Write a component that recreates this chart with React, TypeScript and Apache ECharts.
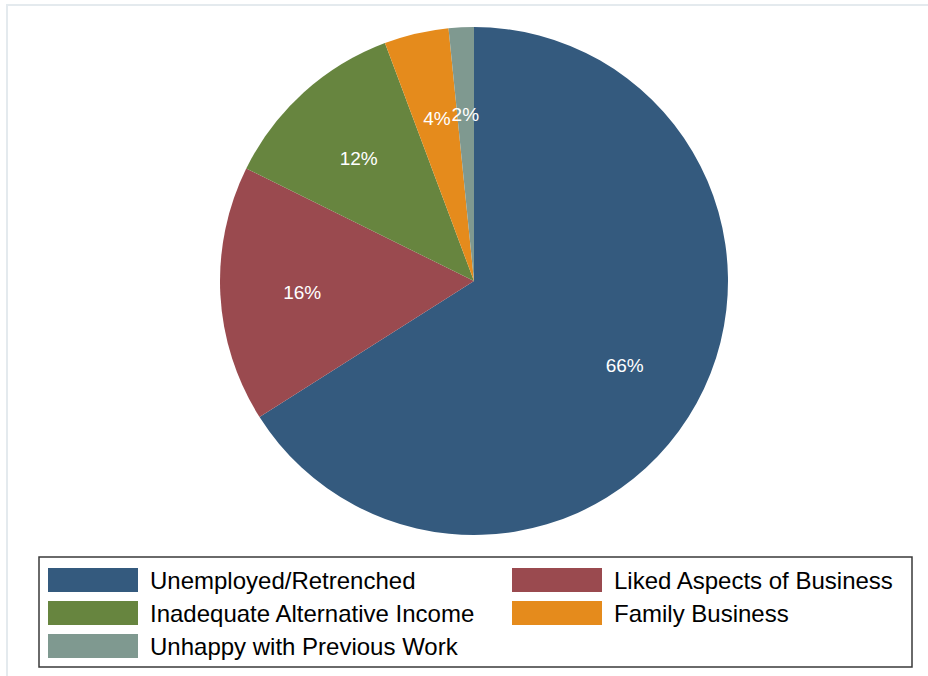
import React, { useEffect, useRef } from "react";
import * as echarts from "echarts";

const categories = [
  "Unemployed/Retrenched",
  "Liked Aspects of Business",
  "Inadequate Alternative Income",
  "Family Business",
  "Unhappy with Previous Work",
];
const values = [66.0, 16.3, 12.0, 4.1, 1.6];
const colors = ["#345a7e", "#9a4a4f", "#67853f", "#e58b1c", "#7f9990"];
const legendLeft = ["Unemployed/Retrenched", "Inadequate Alternative Income", "Unhappy with Previous Work"];
const legendRight = ["Liked Aspects of Business", "Family Business"];

const FONT = "'Liberation Sans', Arial, Helvetica, sans-serif";

export default function App() {
  const ref = useRef<HTMLDivElement>(null);
  useEffect(() => {
    if (!ref.current) return;
    const chart = echarts.init(ref.current, undefined, { renderer: "svg" });
    const legendCommon = {
      orient: "vertical" as const,
      top: 563,
      itemWidth: 90,
      itemHeight: 24,
      itemGap: 9,
      icon: "rect",
      selectedMode: false,
      textStyle: { color: "#000", fontSize: 24, fontFamily: FONT, padding: [0, 0, 0, 7] },
    };
    chart.setOption({
      animation: false,
      backgroundColor: "#ffffff",
      color: colors,
      legend: [
        { ...legendCommon, left: 43, data: legendLeft },
        { ...legendCommon, left: 507, data: legendRight },
      ],
      graphic: [
        {
          type: "rect",
          shape: { x: 7, y: 5, width: 940, height: 690 },
          style: { fill: "none", stroke: "#e4eaee", lineWidth: 2 },
          silent: true,
          z: -1,
        },
        {
          type: "rect",
          shape: { x: 39, y: 557, width: 873, height: 110 },
          style: { fill: "none", stroke: "#3a3a3a", lineWidth: 1.5 },
          silent: true,
        },
      ],
      series: [
        {
          type: "pie",
          center: [474, 281],
          radius: [0, 254],
          startAngle: 90,
          clockwise: true,
          silent: true,
          label: { show: false },
          labelLine: { show: false },
          itemStyle: { borderWidth: 0 },
          data: categories.map((c, i) => ({ name: c, value: values[i], itemStyle: { color: colors[i] } })),
        },
        {
          type: "pie",
          center: [474, 281],
          radius: [84, 254],
          startAngle: 90,
          clockwise: true,
          silent: true,
          legendHoverLink: false,
          itemStyle: { color: "rgba(0,0,0,0)", borderWidth: 0 },
          label: {
            show: true,
            position: "inside",
            color: "#ffffff",
            fontSize: 19,
            fontFamily: FONT,
            formatter: (p: any) => `${Math.round(p.value)}%`,
          },
          labelLayout: (p: any) => (p.dataIndex === 3 ? { dx: 2, dy: 5 } : { dy: p.dataIndex >= 2 ? 5 : 2 }),
          labelLine: { show: false },
          data: categories.map((c, i) => ({ name: c, value: values[i] })),
        },
      ],
    });
    return () => chart.dispose();
  }, []);
  return (
    <div
      ref={ref}
      style={{ position: "fixed", left: 0, top: 0, width: 928, height: 676 }}
    />
  );
}
